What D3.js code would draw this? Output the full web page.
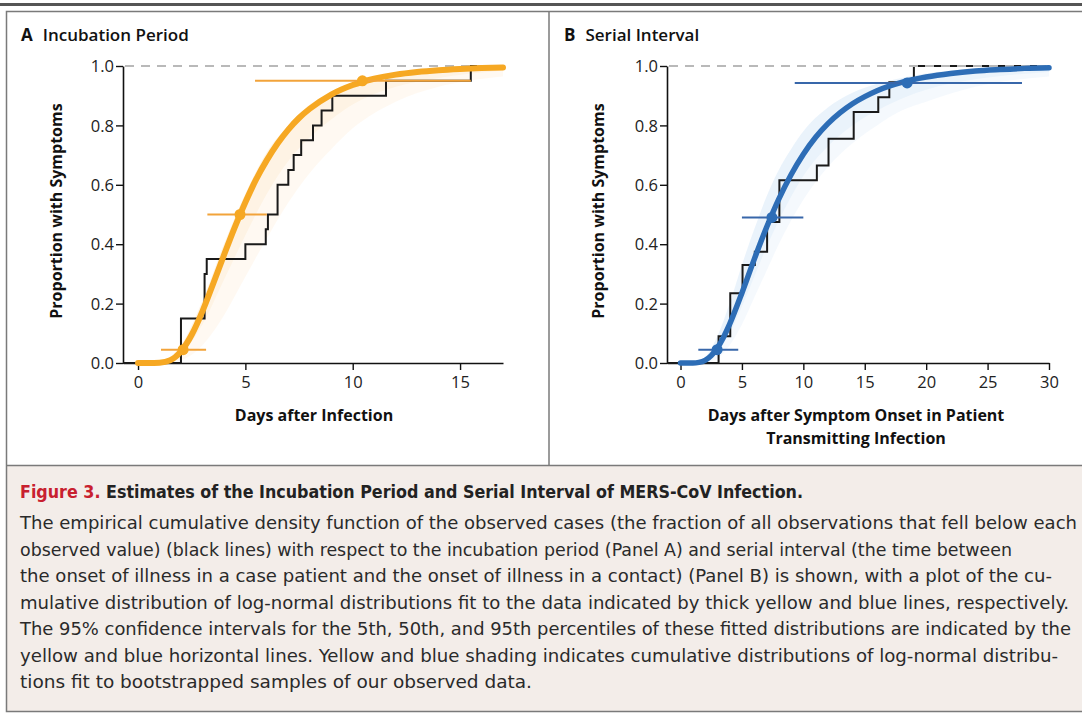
<!DOCTYPE html>
<html lang="en">
<head>
<meta charset="UTF-8">
<title>MERS-CoV incubation period and serial interval</title>
<script src="https://d3js.org/d3.v7.min.js"></script>
<style>
  body { margin: 0; background: #fff; }
  svg { display: block; }
</style>
</head>
<body>
<script>
// ---- data ----
// panel A: empirical CDF steps (day, proportion)
const incubStepDays = [2.0, 3.1, 3.2, 5.0, 5.95, 6.05, 6.5, 7.0, 7.25, 7.6, 8.15, 8.55, 9.05, 11.55, 15.5];
const incubStepVals = [0.15, 0.30, 0.35, 0.40, 0.45, 0.50, 0.60, 0.65, 0.70, 0.75, 0.80, 0.85, 0.90, 0.95, 1.0];
// fitted log-normal CDF (thick yellow line)
const incubCurveDays = [0, 0.5, 1, 1.5, 2, 2.5, 3, 3.5, 4, 4.5, 5, 5.5, 6, 6.5, 7, 7.5, 8, 9, 10, 11, 12, 13, 14, 15, 16, 17];
const incubCurveVals = [0, 0, 0.001, 0.009, 0.039, 0.095, 0.174, 0.267, 0.363, 0.456, 0.541, 0.618, 0.683, 0.739, 0.786, 0.825, 0.856, 0.904, 0.936, 0.957, 0.971, 0.980, 0.986, 0.990, 0.993, 0.995];
// bootstrap shading envelope
const incubShadeDays = [0, 1, 2, 3, 4, 5, 6, 7, 8, 9, 10, 12, 14, 17];
const incubShadeFast = [0, 0.004, 0.06, 0.21, 0.40, 0.57, 0.71, 0.80, 0.87, 0.91, 0.94, 0.975, 0.99, 0.998];
const incubShadeMid  = [0, 0.001, 0.03, 0.13, 0.28, 0.43, 0.57, 0.68, 0.76, 0.82, 0.87, 0.93, 0.96, 0.985];
const incubShadeSlow = [0, 0, 0.01, 0.06, 0.16, 0.29, 0.42, 0.54, 0.64, 0.72, 0.79, 0.88, 0.93, 0.965];
// 95% CI of 5th, 50th, 95th percentiles
const incubPct   = [0.045, 0.50, 0.95];
const incubCiLo  = [1.07, 3.23, 5.45];
const incubCiMid = [2.1, 4.75, 10.45];
const incubCiHi  = [3.17, 6.0, 15.5];

// panel B
const serialStepDays = [3.1, 4.05, 5.05, 6.05, 7.05, 8.05, 11.1, 12.05, 14.1, 16.1, 17.0, 19.0];
const serialStepVals = [0.09, 0.235, 0.33, 0.375, 0.475, 0.615, 0.665, 0.755, 0.845, 0.895, 0.945, 1.0];
const serialCurveDays = [0, 1, 1.5, 2, 2.5, 3, 3.5, 4, 5, 6, 7, 8, 9, 10, 11, 12, 13, 14, 15, 16, 18, 20, 22, 24, 26, 28, 30];
const serialCurveVals = [0, 0, 0.002, 0.009, 0.025, 0.051, 0.087, 0.131, 0.236, 0.349, 0.456, 0.552, 0.634, 0.703, 0.760, 0.806, 0.843, 0.873, 0.897, 0.917, 0.945, 0.963, 0.975, 0.983, 0.988, 0.992, 0.994];
const serialShadeDays = [0, 1, 2, 3, 4, 5, 6, 7, 8, 9, 10, 12, 14, 16, 18, 20, 24, 30];
const serialShadeFast = [0, 0.001, 0.02, 0.09, 0.20, 0.33, 0.45, 0.56, 0.65, 0.72, 0.78, 0.86, 0.91, 0.94, 0.96, 0.975, 0.99, 0.997];
const serialShadeMid  = [0, 0, 0.006, 0.035, 0.10, 0.19, 0.29, 0.39, 0.48, 0.56, 0.63, 0.73, 0.80, 0.85, 0.89, 0.92, 0.955, 0.98];
const serialShadeSlow = [0, 0, 0.002, 0.015, 0.06, 0.13, 0.22, 0.31, 0.40, 0.48, 0.55, 0.66, 0.74, 0.80, 0.85, 0.88, 0.93, 0.965];
const serialPct   = [0.045, 0.49, 0.943];
const serialCiLo  = [1.45, 5.0, 9.3];
const serialCiMid = [2.98, 7.44, 18.45];
const serialCiHi  = [4.7, 10.0, 27.8];

const yTicks = [0, 0.2, 0.4, 0.6, 0.8, 1.0];
const incubXTicks = [0, 5, 10, 15];
const serialXTicks = [0, 5, 10, 15, 20, 25, 30];

const captionTitle = ["Figure 3.", "Estimates of the Incubation Period and Serial Interval of MERS-CoV Infection."];
const captionLines = [
  "The empirical cumulative density function of the observed cases (the fraction of all observations that fell below each",
  "observed value) (black lines) with respect to the incubation period (Panel A) and serial interval (the time between",
  "the onset of illness in a case patient and the onset of illness in a contact) (Panel B) is shown, with a plot of the cu-",
  "mulative distribution of log-normal distributions fit to the data indicated by thick yellow and blue lines, respectively.",
  "The 95% confidence intervals for the 5th, 50th, and 95th percentiles of these fitted distributions are indicated by the",
  "yellow and blue horizontal lines. Yellow and blue shading indicates cumulative distributions of log-normal distribu-",
  "tions fit to bootstrapped samples of our observed data."
];
// right edge of each caption line, as set in the figure
const captionEnds = [1077, 1012, 1052, 1069, 1071, 1058, 532];

const W = 1082, H = 717;
const svg = d3.select("body").append("svg").attr("width", W).attr("height", H);

const condensed = "'Liberation Sans Narrow', 'DejaVu Sans Condensed', 'Roboto Condensed', sans-serif";
const sans = "'Open Sans', 'DejaVu Sans', sans-serif";

// frame
svg.append("rect").attr("x", 0).attr("y", 3).attr("width", W).attr("height", 3).attr("fill", "#555");
svg.append("rect").attr("x", 6.5).attr("y", 466).attr("width", W).attr("height", 245).attr("fill", "#f3ede9");
svg.append("rect").attr("x", 6.5).attr("y", 11.5).attr("width", W).attr("height", 700)
  .attr("fill", "none").attr("stroke", "#7a7a7a").attr("stroke-width", 1.5);
svg.append("line").attr("x1", 6.5).attr("x2", W).attr("y1", 465.5).attr("y2", 465.5)
  .attr("stroke", "#7a7a7a").attr("stroke-width", 1.5);
svg.append("line").attr("x1", 549).attr("x2", 549).attr("y1", 11.5).attr("y2", 465.5)
  .attr("stroke", "#7a7a7a").attr("stroke-width", 1.5);

function panel(cfg) {
  const x = d3.scaleLinear().domain(cfg.xDomain).range(cfg.xRange);
  const y = d3.scaleLinear().domain([0, 1]).range([363, 66]);
  const g = svg.append("g");

  // title
  const t = g.append("text").attr("x", cfg.titleX).attr("y", 41)
    .attr("font-family", sans).attr("font-weight", 700).attr("font-size", 17).attr("fill", "#111");
  t.append("tspan").text(cfg.letter);
  t.append("tspan").attr("dx", 10).attr("font-weight", 600).text(cfg.title);

  // bootstrap shading
  const shade = cfg.shadeDays.map((d, i) => ({ d, f: cfg.shadeFast[i], m: cfg.shadeMid[i], s: cfg.shadeSlow[i] }));
  const area = (lo, hi) => d3.area().x(p => x(p.d)).y0(p => y(p[lo])).y1(p => y(p[hi])).curve(d3.curveMonotoneX);
  g.append("path").datum(shade).attr("d", area("s", "f")).attr("fill", cfg.shadeColor).attr("opacity", 0.07);
  g.append("path").datum(shade).attr("d", area("m", "f")).attr("fill", cfg.shadeColor).attr("opacity", 0.08);

  // axes
  const ya = g.append("g").attr("transform", `translate(${cfg.xRange[0]},0)`)
    .call(d3.axisLeft(y).tickValues(yTicks).tickFormat(d3.format(".1f")).tickSize(7).tickSizeOuter(0).tickPadding(2));
  const xa = g.append("g").attr("transform", "translate(0,363)")
    .call(d3.axisBottom(x).tickValues(cfg.xTicks).tickSize(7).tickSizeOuter(0).tickPadding(6));
  [ya, xa].forEach(a => {
    a.attr("font-size", null).attr("font-family", null);
    a.select(".domain").attr("stroke", "#111").attr("stroke-width", 1.6);
    a.selectAll(".tick line").attr("stroke", "#111").attr("stroke-width", 1.4);
    a.selectAll(".tick text").style("font-family", sans).style("font-size", "16.5px").attr("fill", "#222");
  });
  ya.selectAll(".tick text").attr("dy", "0.35em");

  // empirical CDF
  const steps = [[cfg.xDomain[0], 0]].concat(cfg.stepDays.map((d, i) => [d, cfg.stepVals[i]]), [[cfg.stepEnd, 1]]);
  g.append("path").datum(steps)
    .attr("d", d3.line().x(p => x(p[0])).y(p => y(p[1])).curve(d3.curveStepAfter))
    .attr("fill", "none").attr("stroke", "#1a1a1a").attr("stroke-width", 2);

  // reference line at 1.0
  g.append("line").attr("x1", cfg.xRange[0] + 2).attr("x2", cfg.xRange[1]).attr("y1", y(1)).attr("y2", y(1))
    .attr("stroke", "#b9b9b9").attr("stroke-width", 2).attr("stroke-dasharray", "9,7");

  // fitted CDF
  g.append("path").datum(cfg.curveDays.map((d, i) => [d, cfg.curveVals[i]]))
    .attr("d", d3.line().x(p => x(p[0])).y(p => y(p[1])).curve(d3.curveMonotoneX))
    .attr("fill", "none").attr("stroke", cfg.color).attr("stroke-width", cfg.curveWidth)
    .attr("stroke-linecap", "round");

  // percentile CIs
  cfg.pct.forEach((p, i) => {
    g.append("line").attr("x1", x(cfg.ciLo[i])).attr("x2", x(cfg.ciHi[i])).attr("y1", y(p)).attr("y2", y(p))
      .attr("stroke", cfg.ciColor).attr("stroke-width", 2);
    g.append("circle").attr("cx", x(cfg.ciMid[i])).attr("cy", y(p)).attr("r", 5.5).attr("fill", cfg.color);
  });

  // axis titles
  g.append("text").attr("transform", `translate(${cfg.yTitleX},211) rotate(-90)`)
    .attr("text-anchor", "middle").attr("font-family", sans).attr("font-weight", 700).attr("font-size", 16)
    .attr("fill", "#111").text("Proportion with Symptoms");
  cfg.xTitle.forEach((s, i) => {
    g.append("text").attr("x", cfg.xTitleX).attr("y", 421 + i * 23).attr("text-anchor", "middle")
      .attr("font-family", sans).attr("font-weight", 700).attr("font-size", 16).attr("fill", "#111").text(s);
  });
}

panel({
  letter: "A", title: "Incubation Period", titleX: 21,
  xDomain: [-0.7, 17.0], xRange: [123, 503], xTicks: incubXTicks,
  stepDays: incubStepDays, stepVals: incubStepVals, stepEnd: 17,
  curveDays: incubCurveDays, curveVals: incubCurveVals,
  shadeDays: incubShadeDays, shadeFast: incubShadeFast, shadeMid: incubShadeMid, shadeSlow: incubShadeSlow,
  pct: incubPct, ciLo: incubCiLo, ciMid: incubCiMid, ciHi: incubCiHi,
  color: "#f6a823", ciColor: "#f2a33a", shadeColor: "#f8b040", curveWidth: 6,
  yTitleX: 62, xTitle: ["Days after Infection"], xTitleX: 314
});

panel({
  letter: "B", title: "Serial Interval", titleX: 564,
  xDomain: [-1.1, 30], xRange: [667, 1049], xTicks: serialXTicks,
  stepDays: serialStepDays, stepVals: serialStepVals, stepEnd: 29.6,
  curveDays: serialCurveDays, curveVals: serialCurveVals,
  shadeDays: serialShadeDays, shadeFast: serialShadeFast, shadeMid: serialShadeMid, shadeSlow: serialShadeSlow,
  pct: serialPct, ciLo: serialCiLo, ciMid: serialCiMid, ciHi: serialCiHi,
  color: "#2d6db6", ciColor: "#3867aa", shadeColor: "#74aee6", curveWidth: 5.5,
  yTitleX: 604, xTitle: ["Days after Symptom Onset in Patient", "Transmitting Infection"], xTitleX: 856
});

// caption
const ct = svg.append("text").attr("x", 20).attr("y", 498)
  .attr("font-family", condensed).attr("font-weight", 700).attr("font-size", 18.5).attr("fill", "#222")
  .attr("textLength", 783).attr("lengthAdjust", "spacingAndGlyphs");
ct.append("tspan").attr("fill", "#c8202f").text(captionTitle[0]);
ct.append("tspan").text(" " + captionTitle[1]);

svg.selectAll("text.cap").data(captionLines).enter().append("text").attr("class", "cap")
  .attr("x", 20).attr("y", (d, i) => 529 + i * 26.5)
  .attr("font-family", condensed).attr("font-size", 18.5).attr("fill", "#2a2a2a")
  .attr("textLength", (d, i) => captionEnds[i] - 20).attr("lengthAdjust", "spacingAndGlyphs")
  .text(d => d);
</script>
</body>
</html>
